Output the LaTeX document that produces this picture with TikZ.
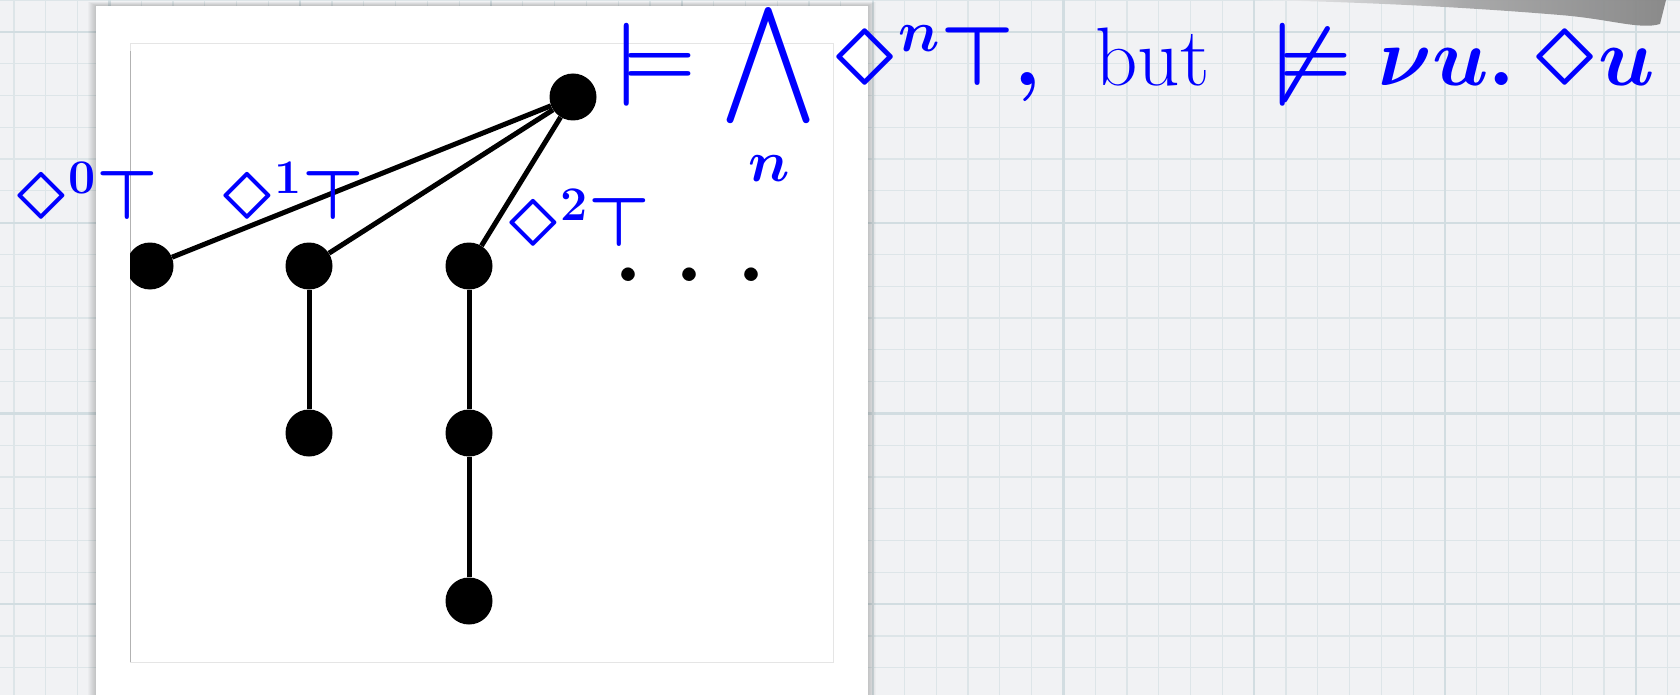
\RequirePackage{fix-cm}
\documentclass[tikz,border=0pt]{standalone}
\usepackage{latexsym}
\DeclareFontFamily{U}{lasy}{}
\DeclareFontShape{U}{lasy}{m}{n}{<-> lasy10}{}
\DeclareFontShape{U}{lasy}{b}{n}{<-> lasyb10}{}
\DeclareFontShape{OMX}{cmex}{m}{n}{<-> cmex10}{}
\usepackage{tikz}
\definecolor{paper}{HTML}{F1F2F4}
\definecolor{gridminor}{HTML}{DDE5E8}
\definecolor{gridmajor}{HTML}{D2DDE1}
\definecolor{ink}{HTML}{0000FF}
\definecolor{smudge}{HTML}{858585}

\begin{document}
\begin{tikzpicture}[x=1pt,y=-1pt,
 dot/.style={circle,fill=black,inner sep=0pt,minimum size=47pt},
 edge/.style={line width=5pt},
 lbl/.style={text=ink,inner sep=0pt,anchor=base west,
             font=\fontsize{69}{83}\selectfont\boldmath},
 fml/.style={text=ink,inner sep=0pt,anchor=base west,
             font=\fontsize{83}{100}\selectfont\boldmath},
 more/.style={inner sep=0pt,anchor=base,font=\fontsize{140}{168}\selectfont}]
 \useasboundingbox (0,0) rectangle (1680,695);
 \fill[paper] (0,0) rectangle (1680,695);
 \foreach \i in {0,...,52}
   \draw[gridminor,line width=1.3pt] ({14+31.8*\i},0) -- ++(0,695);
 \foreach \j in {0,...,21}
   \draw[gridminor,line width=1.3pt] (0,{31.8*\j}) -- ++(1680,0);
 \foreach \i in {3,9,...,51}
   \draw[gridmajor,line width=2.2pt] ({14+31.8*\i},0) -- ++(0,695);
 \foreach \j in {1,7,...,19}
   \draw[gridmajor,line width=2.2pt] (0,{31.8*\j}) -- ++(1680,0);
 \shade[left color=paper,right color=smudge,middle color=smudge!70!paper,opacity=.95]
   (1262,0) .. controls (1400,3) and (1500,10) .. (1560,15)
   .. controls (1610,19) and (1640,30) .. (1660,24) -- (1666,0) -- cycle;
 \foreach \s in {1,...,8}
   \fill[black,opacity=.025] ({96-\s},{6-.5*\s}) rectangle ({868+\s},700);
 \fill[white] (96,6) rectangle (868,700);
 \draw[black!10,fill=white] (130,43) rectangle (833,662);
 \draw[black!30] (130,51) -- (130,662);
 \begin{scope}
 \clip (130,43) rectangle (833,662);
 \node[dot] (root) at (573,97) {};
 \node[dot] (a0) at (150,266) {};
 \node[dot] (a1) at (309,266) {};
 \node[dot] (a2) at (469,266) {};
 \node[dot] (b1) at (309,433) {};
 \node[dot] (b2) at (469,433) {};
 \node[dot] (c2) at (469,601) {};
 \node[more] (etc) at (690,281) {$\ldots$};
 \draw[edge] (root) -- (a0);
 \draw[edge] (root) -- (a1);
 \draw[edge] (root) -- (a2);
 \draw[edge] (a1) -- (b1);
 \draw[edge] (a2) -- (b2);
 \draw[edge] (b2) -- (c2);
 \end{scope}
 \node[lbl] (d0) at (13,219) {$\Diamond^{0}\top$};
 \node[lbl] (d1) at (219,219) {$\Diamond^{1}\top$};
 \node[lbl] (d2) at (505,246) {$\Diamond^{2}\top$};
 \node[fml] (sat) at (613,86) {$\displaystyle\models\bigwedge_n\Diamond^n\top,$};
 \node[fml] (but) at (1095,86) {but};
 \node[fml] (unsat) at (1269,86) {$\not\models\nu u.\,\Diamond u$};
\end{tikzpicture}
\end{document}
